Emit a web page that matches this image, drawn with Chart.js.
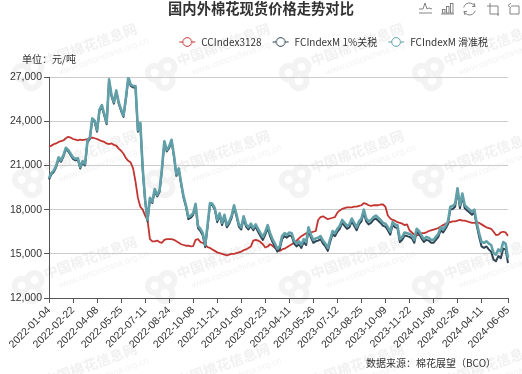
<!DOCTYPE html>
<html>
<head>
<meta charset="utf-8">
<style>
  html, body { margin: 0; padding: 0; background: #fff; }
  #wrap { width: 522px; height: 374px; }
</style>
<script src="https://cdn.jsdelivr.net/npm/chart.js@4/dist/chart.umd.min.js"></script>
</head>
<body>
<div id="wrap"><canvas id="cottonChart" width="522" height="374"></canvas></div>
<script>
// axis ticks, one label every 10 samples
const tickLabels = ['2022-01-04','2022-02-22','2022-04-08','2022-05-25','2022-07-11','2022-08-24','2022-10-08','2022-11-21','2023-01-05','2023-02-23','2023-04-11','2023-05-26','2023-07-12','2023-08-25','2023-10-09','2023-11-22','2024-01-08','2024-02-26','2024-04-11','2024-06-05'];

const ccIndex = [
  22270,22350,22450,22500,22600,22650,22700,22850,22950,22900,
  22800,22750,22700,22750,22720,22750,22800,22880,22900,22850,
  22800,22720,22650,22600,22500,22450,22500,22400,22350,22150,
  22000,21800,21500,21320,21200,20800,19900,18800,18200,18000,
  17600,17300,16000,15850,15850,15900,15800,15750,15950,16000,
  16000,16000,15950,15850,15750,15650,15600,15550,15550,15500,
  15530,15950,16000,15800,15750,15650,15450,15400,15300,15200,
  15100,15050,15000,14950,14900,14950,15000,15000,15050,15100,
  15150,15250,15300,15400,15500,15900,15950,15900,15800,15650,
  15430,15500,15650,15550,15400,15250,15200,15300,15350,15450,
  15550,15650,15750,15900,16050,16200,16300,16400,16400,16450,
  16500,16550,17300,17500,17550,17450,17350,17400,17450,17500,
  17800,17950,18050,18100,18150,18150,18150,18200,18200,18250,
  18300,18450,18400,18300,18250,18300,18300,18300,18350,18350,
  18200,17600,17400,17300,17250,17150,17100,17050,16950,17000,
  16600,16450,16300,16250,16280,16400,16400,16450,16550,16600,
  16650,16700,16750,16850,16950,17050,17100,17150,17200,17200,
  17250,17300,17250,17250,17200,17150,17100,17100,17150,17100,
  17000,16900,16800,16750,16700,16500,16280,16300,16450,16500,16450,16220
];

const fcIndex1 = [
  20050,20400,20550,20900,21450,21250,21600,22100,21950,21700,
  21450,21350,21400,20800,21200,21000,22600,22800,24100,23950,
  23300,24700,25000,24400,23800,26750,25700,25200,26000,25200,
  24700,24300,25500,26900,26400,26300,26300,23300,23800,20700,
  18600,17200,18700,18450,19300,18900,19200,20700,22550,21950,
  22200,22650,21600,20300,20700,19700,18800,18200,17350,17450,
  17650,18300,16750,16550,16250,15450,16850,18350,18300,18000,
  17150,17600,16950,17500,16800,17050,17450,18150,17550,16850,
  16650,17400,16850,16650,16900,16600,16850,16500,16200,15950,
  16300,16750,16200,15800,15500,15150,15300,16000,16200,16100,
  16250,16200,15700,15500,15650,15400,15800,15600,16600,16100,
  15750,15850,15900,16000,15700,15500,15200,15800,16350,16200,
  16500,16700,17100,16900,16700,16800,17200,16900,16600,17000,
  17200,17800,17200,17000,17100,17300,17400,17250,17100,16900,
  16850,16600,16300,16950,16800,16750,15800,15950,16250,16200,
  16150,16050,15750,16500,16350,16050,15800,15950,15900,15750,
  15750,15950,16150,16600,16450,16700,17000,18000,18050,18200,
  19250,18100,18900,18100,17950,17800,17650,17800,16900,16150,
  15500,15400,15500,15300,15150,14600,14500,14850,14700,15350,15300,14380
];

const fcIndexSliding = [
  20150,20500,20650,21000,21550,21350,21700,22200,22050,21800,
  21550,21450,21500,20900,21300,21100,22700,22900,24200,24050,
  23400,24800,25100,24500,23900,26850,25800,25300,26100,25300,
  24800,24400,25600,27000,26500,26400,26400,23400,23900,20800,
  18700,17300,18800,18550,19400,19000,19300,20800,22650,22050,
  22300,22750,21700,20400,20800,19800,18900,18300,17500,17600,
  17770,18400,16900,16700,16400,15600,17000,18450,18400,18100,
  17300,17750,17100,17650,16950,17200,17600,18300,17700,17000,
  16800,17550,17000,16800,17050,16750,17000,16700,16400,16150,
  16500,16950,16400,16000,15700,15350,15500,16200,16400,16300,
  16450,16400,15900,15700,15850,15600,16000,15800,16800,16300,
  15950,16050,16100,16200,15900,15700,15400,16000,16550,16400,
  16700,16900,17300,17100,16900,17000,17400,17100,16800,17200,
  17400,18000,17400,17200,17300,17500,17600,17450,17300,17100,
  17050,16800,16500,17150,17000,16950,16000,16150,16450,16400,
  16350,16250,15950,16700,16550,16250,16000,16150,16100,15950,
  15950,16150,16350,16800,16650,16900,17200,18200,18250,18400,
  19450,18300,19100,18300,18150,18000,17850,18000,17100,16400,
  15800,15750,15850,15700,15600,15050,14950,15300,15150,15800,15700,14700
];

const seriesNames = ['CCIndex3128', 'FCIndexM 1%关税', 'FCIndexM 滑准税'];
const seriesColors = ['#c23531', '#2f4554', '#61a0a8'];
const seriesWidths = [1.8, 2, 2.6];

// every 10th sample carries a date, the last stretch has 11
const categories = ccIndex.map((v, i) => {
  if (i === ccIndex.length - 1) return tickLabels[19];
  if (i % 10 === 0 && i / 10 < 19) return tickLabels[i / 10];
  return '';
});

const CJK = '"Noto Sans CJK SC", "Noto Sans", sans-serif';

// line with a hollow circle, like the legend of the original
function legendMark(color) {
  const c = document.createElement('canvas');
  c.width = 18; c.height = 12;
  const g = c.getContext('2d');
  g.strokeStyle = color;
  g.lineWidth = 1;
  g.beginPath(); g.moveTo(1, 6); g.lineTo(17, 6); g.stroke();
  g.fillStyle = '#fff';
  g.beginPath(); g.arc(9, 6, 4.4, 0, Math.PI * 2); g.fill(); g.stroke();
  return c;
}

function drawWatermarkTile(ctx, x, y) {
  ctx.save();
  ctx.translate(x, y);
  ctx.rotate(-20 * Math.PI / 180);
  ctx.fillStyle = '#f3f3f3';
  [[-7, -5, 10], [7, -6, 10], [0, 6, 10.5]].forEach(p => {
    ctx.beginPath(); ctx.arc(p[0], p[1], p[2], 0, Math.PI * 2); ctx.fill();
  });
  ctx.fillStyle = '#fff';
  [[-7, -5, 4], [7, -6, 4], [0, 6, 4.5]].forEach(p => {
    ctx.beginPath(); ctx.arc(p[0], p[1], p[2], 0, Math.PI * 2); ctx.fill();
  });
  ctx.fillStyle = '#f1f1f1';
  ctx.textAlign = 'left';
  ctx.textBaseline = 'middle';
  ctx.font = 'bold 14px ' + CJK;
  ctx.fillText('中国棉花信息网', 18, -8);
  ctx.fillStyle = '#f3f3f3';
  ctx.font = '9px "Liberation Sans", sans-serif';
  ctx.fillText('www.cottonchina.org.cn', 28, 8);
  ctx.restore();
}

function drawToolIcons(ctx) {
  ctx.save();
  ctx.strokeStyle = '#777';
  ctx.lineWidth = 0.9;
  const line = pts => {
    ctx.beginPath();
    pts.forEach((p, i) => i ? ctx.lineTo(p[0], p[1]) : ctx.moveTo(p[0], p[1]));
    ctx.stroke();
  };
  // line
  line([[419, 9], [423, 9], [425, 3], [427, 9], [429, 8], [432, 9]]);
  line([[419, 13], [432, 13]]);
  // bar
  ctx.strokeRect(442.5, 9.5, 2.5, 3.5);
  ctx.strokeRect(446.5, 6.5, 2.5, 6.5);
  ctx.strokeRect(450.5, 3.5, 2.5, 9.5);
  line([[441, 14], [454, 14]]);
  // refresh
  ctx.beginPath(); ctx.arc(469.5, 9, 6, 0.3, 2.7); ctx.stroke();
  ctx.beginPath(); ctx.arc(469.5, 9, 6, 3.4, 5.9); ctx.stroke();
  line([[474, 3], [475, 6.5], [472, 6.5]]);
  line([[465, 15], [464, 11.5], [467, 11.5]]);
  // restore and crop
  line([[490, 3], [490, 14], [499, 14]]);
  line([[487, 6], [498, 6], [498, 16]]);
  line([[511, 6], [519, 6], [519, 14], [510, 14], [510, 8]]);
  line([[511, 3], [508, 5.5], [511, 8]]);
  ctx.restore();
}

const decorPlugin = {
  id: 'decor',
  afterLayout(chart) {
    chart.legend.top = 27;
    chart.legend.bottom = chart.legend.top + chart.legend.height;
    chart.legend.right -= 10;
    chart.titleBlock.right = 522;
  },
  beforeDraw(chart) {
    const ctx = chart.ctx;
    ctx.save();
    ctx.fillStyle = '#fff';
    ctx.fillRect(0, 0, chart.width, chart.height);
    [75, 182, 288, 395].forEach(y => {
      [30, 163, 297, 430].forEach(x => drawWatermarkTile(ctx, x, y));
    });
    ctx.restore();
  },
  afterDraw(chart) {
    const ctx = chart.ctx;
    ctx.save();
    ctx.fillStyle = '#333';
    ctx.textBaseline = 'middle';
    ctx.textAlign = 'left';
    ctx.font = '10px ' + CJK;
    ctx.fillText('单位：元/吨', 22, 59);
    ctx.fillText('数据来源：棉花展望（BCO）', 366, 363);
    ctx.restore();
    drawToolIcons(ctx);
  }
};

new Chart(document.getElementById('cottonChart'), {
  type: 'line',
  data: {
    labels: categories,
    datasets: seriesNames.map((name, i) => ({
      label: name,
      data: [ccIndex, fcIndex1, fcIndexSliding][i],
      borderColor: seriesColors[i],
      backgroundColor: seriesColors[i],
      borderWidth: seriesWidths[i],
      borderJoinStyle: 'round',
      pointRadius: 0,
      pointStyle: legendMark(seriesColors[i]),
      tension: 0,
      order: 2 - i
    }))
  },
  plugins: [decorPlugin],
  options: {
    responsive: false,
    animation: false,
    layout: { padding: { left: 0, right: 14, top: 0, bottom: 0 } },
    plugins: {
      title: {
        display: true,
        text: '国内外棉花现货价格走势对比',
        color: '#333',
        font: { family: CJK, size: 14.3, weight: 'bold' },
        padding: { top: 0, bottom: 30 }
      },
      legend: {
        align: 'end',
        labels: {
          usePointStyle: true,
          pointStyleWidth: 18,
          color: '#333',
          font: { family: CJK, size: 10 },
          padding: 10,
          sort: (a, b) => a.datasetIndex - b.datasetIndex
        }
      },
      tooltip: { enabled: false }
    },
    scales: {
      x: {
        afterFit(scale) { scale.height = 76; },
        afterBuildTicks(scale) {
          scale.ticks = scale.ticks.filter(t => categories[t.value] !== '');
        },
        grid: { drawOnChartArea: false, tickColor: '#555', tickLength: 5 },
        border: { color: '#555' },
        ticks: {
          autoSkip: false,
          minRotation: 45,
          maxRotation: 45,
          color: '#333',
          padding: 1,
          font: { family: '"Liberation Sans", sans-serif', size: 10.5 }
        }
      },
      y: {
        min: 12000,
        max: 27000,
        afterFit(scale) { scale.width = 49; },
        grid: { color: '#ccc', tickColor: '#555', tickLength: 5 },
        border: { color: '#555' },
        ticks: {
          stepSize: 3000,
          color: '#333',
          padding: 2,
          font: { family: '"Liberation Sans", sans-serif', size: 10.5 },
          callback: v => v.toLocaleString('en-US')
        }
      }
    }
  }
});
</script>
</body>
</html>
